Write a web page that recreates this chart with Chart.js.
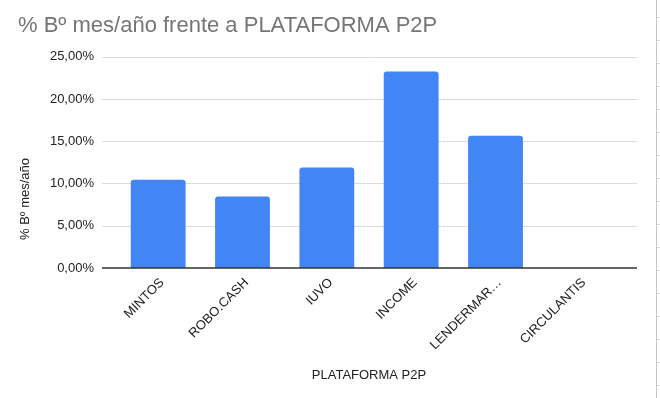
<!DOCTYPE html>
<html lang="es">
<head>
<meta charset="UTF-8">
<title>% Bº mes/año frente a PLATAFORMA P2P</title>
<script src="https://cdn.jsdelivr.net/npm/chart.js"></script>
<style>
  html, body { margin: 0; padding: 0; background: #fff; }
  #wrap { position: relative; width: 660px; height: 398px; }
  /* borde de la hoja de cálculo a la derecha */
  #borde {
    position: absolute; left: 656px; top: 0; width: 4px; height: 398px;
    border-left: 1px solid #c4c4c4;
    background: repeating-linear-gradient(to bottom, transparent 0 17px, #d8d8d8 17px 18px, transparent 18px 23px);
  }
</style>
</head>
<body>
<div id="wrap">
  <canvas id="myChart" width="660" height="398"></canvas>
  <div id="borde"></div>
</div>

<script>

  // datos
  const plataformas = ['MINTOS', 'ROBO.CASH', 'IUVO', 'INCOME', 'LENDERMAR\u2026', 'CIRCULANTIS'];
  const beneficio = [10.45, 8.45, 11.9, 23.25, 15.65, 0];
  const ticksY = [0, 5, 10, 15, 20, 25];

  const fuente = "'Liberation Sans', Arial, sans-serif";
  const tituloY = '% Bº mes/año';

  // rejilla horizontal un poco más ancha que las barras (como en google sheets)
  const rejilla = {
    id: 'rejilla',
    beforeDatasetsDraw(chart) {
      const ctx = chart.ctx;
      const area = chart.chartArea;
      const y = chart.scales.y;
      const x0 = area.left - 14, x1 = area.right + 15;
      ctx.save();
      ticksY.forEach(v => {
        if (v === 0) return;
        const py = Math.round(y.getPixelForValue(v)) + 0.5;
        ctx.strokeStyle = '#dcdcdc';
        ctx.lineWidth = 1;
        ctx.beginPath(); ctx.moveTo(x0, py); ctx.lineTo(x1, py); ctx.stroke();
      });
      ctx.restore();
    },
    afterDatasetsDraw(chart) {
      const ctx = chart.ctx;
      const area = chart.chartArea;
      const py = chart.scales.y.getPixelForValue(0);
      ctx.save();
      ctx.strokeStyle = '#333';
      ctx.lineWidth = 1.5;
      ctx.beginPath(); ctx.moveTo(area.left - 14, py); ctx.lineTo(area.right + 15, py); ctx.stroke();

      // título del eje Y, centrado en la altura total (no en el área)
      ctx.translate(25, chart.height / 2);
      ctx.rotate(-Math.PI / 2);
      ctx.fillStyle = '#222';
      ctx.font = '13px ' + fuente;
      ctx.textAlign = 'center';
      ctx.textBaseline = 'middle';
      ctx.fillText(tituloY, 0, 0);
      ctx.restore();
    }
  };

  const config = {
    type: 'bar',
    data: {
      labels: plataformas,
      datasets: [{
        label: tituloY,
        data: beneficio,
        backgroundColor: '#4285f4',
        borderRadius: { topLeft: 3, topRight: 3 },
        borderSkipped: 'bottom',
        barPercentage: 0.65,
        categoryPercentage: 1
      }]
    },
    options: {
      responsive: false,
      animation: false,
      layout: { padding: { left: 18, right: 38, top: 13, bottom: 10 } },
      plugins: {
        legend: { display: false },
        tooltip: { enabled: false },
        title: {
          display: true,
          text: '% Bº mes/año frente a PLATAFORMA P2P',
          align: 'start',
          color: '#757575',
          font: { family: fuente, size: 22, weight: 'normal' },
          padding: { top: 0, bottom: 17.3 }
        }
      },
      scales: {
        x: {
          grid: { display: false, drawTicks: false },
          border: { display: false },
          ticks: {
            color: '#222',
            font: { family: fuente, size: 13 },
            minRotation: 45, maxRotation: 45,
            padding: 7,
            labelOffset: 4,
            autoSkip: false
          },
          title: {
            display: true,
            text: 'PLATAFORMA P2P',
            color: '#222',
            font: { family: fuente, size: 13 },
            padding: { top: 0, bottom: 5 }
          },
          afterFit(scale) { scale.height = 120; }
        },
        y: {
          min: 0, max: 25,
          grid: { display: false, drawTicks: false },
          border: { display: false },
          afterBuildTicks(scale) { scale.ticks = ticksY.map(v => ({ value: v })); },
          ticks: {
            color: '#222',
            font: { family: fuente, size: 13 },
            padding: 22,
            callback: v => v.toFixed(2).replace('.', ',') + '%'
          },
          afterFit(scale) { scale.width = 98; }
        }
      }
    },
    plugins: [rejilla]
  };

  const myChart = new Chart(document.getElementById('myChart'), config);

</script>
</body>
</html>
